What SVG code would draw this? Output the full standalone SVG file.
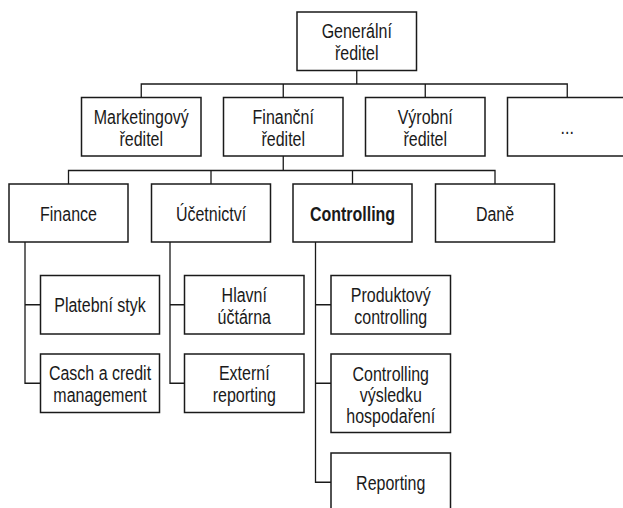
<svg xmlns="http://www.w3.org/2000/svg" width="623" height="508" viewBox="0 0 623 508">
<style>
.box{fill:#fff;stroke:#1a1a1a;stroke-width:1.5}
.ln{fill:none;stroke:#1a1a1a;stroke-width:1.3}
text{font-family:"Liberation Sans",Arial,sans-serif;font-size:19.5px;fill:#1a1a1a;text-anchor:middle}
.b{font-weight:bold}
</style>
<rect width="623" height="508" fill="#fff"/>
<g id="connectors" class="ln">
<path d="M356.75 70.5V84M141.25 97.5V84H567.25V97.5M283.25 84V97.5M425.25 84V97.5"/>
<path d="M283.25 156V170.5M68.5 184V170.5H495V184M211 170.5V184M352.5 170.5V184"/>
<path d="M25 242V383.25H40.5M25 304.75H40.5"/>
<path d="M170 242V383.25H184.5M170 304.75H184.5"/>
<path d="M315.5 242V482.25H331M315.5 304.75H331M315.5 383.25H331"/>
</g>
<g id="n-generalni">
<rect class="box" x="297" y="12" width="119.5" height="58.5"/>
<text transform="translate(356.75 38.25) scale(0.82 1)"><tspan x="0">Generální</tspan><tspan x="0" dy="22">ředitel</tspan></text>
</g>
<g id="n-marketing">
<rect class="box" x="81.5" y="97.5" width="119.5" height="58.5"/>
<text transform="translate(141.25 123.75) scale(0.82 1)"><tspan x="0">Marketingový</tspan><tspan x="0" dy="22">ředitel</tspan></text>
</g>
<g id="n-financni">
<rect class="box" x="223.5" y="97.5" width="119.5" height="58.5"/>
<text transform="translate(283.25 123.75) scale(0.82 1)"><tspan x="0">Finanční</tspan><tspan x="0" dy="22">ředitel</tspan></text>
</g>
<g id="n-vyrobni">
<rect class="box" x="365.5" y="97.5" width="119.5" height="58.5"/>
<text transform="translate(425.25 123.75) scale(0.82 1)"><tspan x="0">Výrobní</tspan><tspan x="0" dy="22">ředitel</tspan></text>
</g>
<g id="n-dalsi">
<rect class="box" x="507.5" y="97.5" width="119.5" height="58.5"/>
<text transform="translate(567.25 134) scale(0.82 1)">...</text>
</g>
<g id="n-finance">
<rect class="box" x="9" y="184" width="119" height="58"/>
<text transform="translate(68.5 220.5) scale(0.82 1)">Finance</text>
</g>
<g id="n-ucetnictvi">
<rect class="box" x="151.5" y="184" width="119" height="58"/>
<text transform="translate(211 220.5) scale(0.82 1)">Účetnictví</text>
</g>
<g id="n-controlling">
<rect class="box" x="293" y="184" width="119" height="58"/>
<text class="b" transform="translate(352.5 220.5) scale(0.82 1)">Controlling</text>
</g>
<g id="n-dane">
<rect class="box" x="435.5" y="184" width="119" height="58"/>
<text transform="translate(495 220.5) scale(0.82 1)">Daně</text>
</g>
<g id="n-platebni">
<rect class="box" x="40.5" y="275.5" width="119" height="58.5"/>
<text transform="translate(100 312.25) scale(0.82 1)">Platební styk</text>
</g>
<g id="n-casch">
<rect class="box" x="40.5" y="354" width="119" height="58.5"/>
<text transform="translate(100 380.25) scale(0.82 1)"><tspan x="0">Casch a credit</tspan><tspan x="0" dy="22">management</tspan></text>
</g>
<g id="n-hlavni">
<rect class="box" x="184.5" y="275.5" width="119.5" height="58.5"/>
<text transform="translate(244.25 301.75) scale(0.82 1)"><tspan x="0">Hlavní</tspan><tspan x="0" dy="22">účtárna</tspan></text>
</g>
<g id="n-externi">
<rect class="box" x="184.5" y="354" width="119.5" height="58.5"/>
<text transform="translate(244.25 380.25) scale(0.82 1)"><tspan x="0">Externí</tspan><tspan x="0" dy="22">reporting</tspan></text>
</g>
<g id="n-produktovy">
<rect class="box" x="331" y="275.5" width="119.5" height="58.5"/>
<text transform="translate(390.75 302.25) scale(0.82 1)"><tspan x="0">Produktový</tspan><tspan x="0" dy="22">controlling</tspan></text>
</g>
<g id="n-vysledek">
<rect class="box" x="331" y="354" width="119.5" height="78.5"/>
<text transform="translate(390.75 380.5) scale(0.82 1)"><tspan x="0">Controlling</tspan><tspan x="0" dy="21.5">výsledku</tspan><tspan x="0" dy="21.5">hospodaření</tspan></text>
</g>
<g id="n-reporting">
<rect class="box" x="331" y="453" width="119.5" height="58.5"/>
<text transform="translate(390.75 489.75) scale(0.82 1)">Reporting</text>
</g>
</svg>
